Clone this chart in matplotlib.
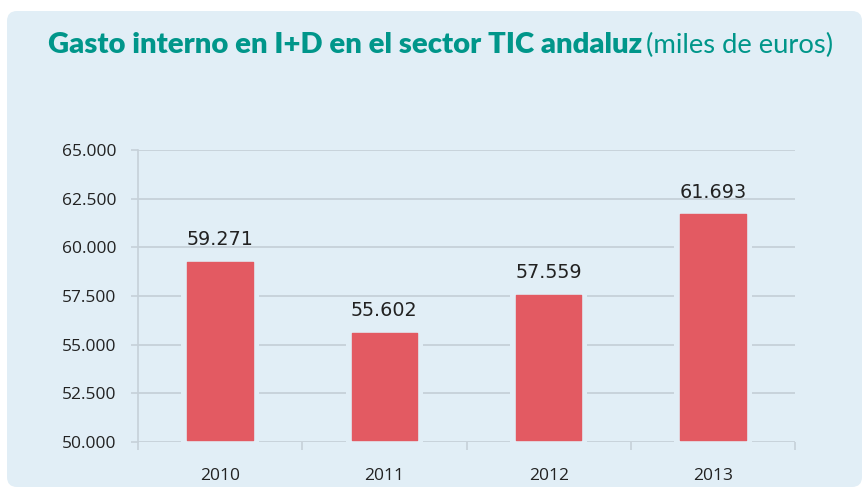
import matplotlib
matplotlib.use("Agg")
import matplotlib.pyplot as plt
from matplotlib import font_manager as fm
from matplotlib.patches import FancyBboxPatch
from matplotlib.transforms import IdentityTransform

years = ["2010", "2011", "2012", "2013"]
values = [59271, 55602, 57559, 61693]
labels = ["59.271", "55.602", "57.559", "61.693"]
yticks = [50000, 52500, 55000, 57500, 60000, 62500, 65000]
ytick_labels = ["50.000", "52.500", "55.000", "57.500", "60.000", "62.500", "65.000"]
title_bold = "Gasto interno en I+D en el sector TIC andaluz"
title_reg = "(miles de euros)"

BG = "#E1EEF6"
RED = "#E35A62"
TEAL = "#00968A"
GRID = "#C6D1D9"
TXT = "#222222"


def has(f):
    try:
        fm.findfont(fm.FontProperties(family=f), fallback_to_default=False)
        return True
    except Exception:
        return False


titlefont = "Lato" if has("Lato") else "Open Sans"
tickfont = "Open Sans" if has("Open Sans") else "DejaVu Sans"

W, H = 866, 488
fig = plt.figure(figsize=(W / 100, H / 100), dpi=100)
fig.patch.set_facecolor("white")

panel = FancyBboxPatch((7 + 10, 1 + 10), 855 - 20, 476 - 20,
                       boxstyle="round,pad=10", transform=IdentityTransform(),
                       facecolor=BG, edgecolor="none", zorder=-5)
fig.patches.append(panel)

ax = fig.add_axes([138 / W, 1 - 442 / H, (795 - 138) / W, (442 - 150) / H])
ax.set_facecolor("none")
ax.set_zorder(2)

x = list(range(len(years)))
base = yticks[0]
heights = [v - base for v in values]
gap = 6 / 164.25
ax.bar(x, [h + 150 for h in heights], width=0.4 + 2 * gap, bottom=base - 150,
       color=BG, edgecolor="none", zorder=2, clip_on=False)
ax.bar(x, [h - 100 for h in heights], width=0.4, bottom=base + 100,
       color=RED, edgecolor=RED, linewidth=1, joinstyle="round", zorder=3)

for xi, v, lab in zip(x, values, labels):
    ax.annotate(lab, (xi, v), xytext=(0, 9), textcoords="offset points",
                ha="center", va="bottom", fontsize=13.8, color=TXT,
                family="DejaVu Sans", zorder=5)

ax.set_xlim(-0.5, len(years) - 0.5)
ax.set_ylim(yticks[0], yticks[-1])
ax.set_yticks(yticks)
ax.set_yticklabels(ytick_labels, fontsize=12.5, color=TXT, family=tickfont)
ax.tick_params(axis="y", length=5, width=1.2, color=GRID, pad=10.5)
ax.set_xticks(x)
ax.set_xticklabels(years, fontsize=12.5, color=TXT, family=tickfont)
ax.tick_params(axis="x", which="major", length=0, pad=19)
ax.set_xticks([i - 0.5 for i in range(len(years) + 1)], minor=True)
ax.tick_params(axis="x", which="minor", length=6, width=1.2, color=GRID)
ax.yaxis.grid(True, color=GRID, linewidth=1.3, zorder=1)
ax.set_axisbelow(True)
for s in ["top", "right", "bottom"]:
    ax.spines[s].set_visible(False)
ax.spines["left"].set_color(GRID)
ax.spines["left"].set_linewidth(1.2)
ax.spines["left"].set_zorder(1)

# Title, fitted to reference widths
fig.canvas.draw()
r = fig.canvas.get_renderer()
yb = 1 - 53 / H
t1 = fig.text(48 / W, yb, title_bold, fontsize=22, fontweight="heavy",
              color=TEAL, family=titlefont, va="baseline", ha="left")
w1 = t1.get_window_extent(r).width
t1.set_fontsize(22 * 593 / w1)
t2 = fig.text(646 / W, yb, title_reg, fontsize=20, color=TEAL,
              family=titlefont, va="baseline", ha="left")
w2 = t2.get_window_extent(r).width
t2.set_fontsize(20 * 188 / w2)

fig.savefig("out.png", dpi=100, facecolor="white")
